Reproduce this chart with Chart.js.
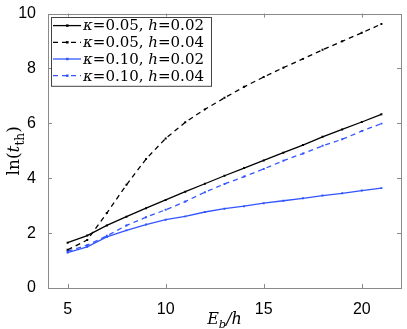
<!DOCTYPE html>
<html>
<head>
<meta charset="utf-8">
<script src="https://cdn.jsdelivr.net/npm/chart.js@4.4.1/dist/chart.umd.min.js"></script>
<style>
  html, body { margin: 0; padding: 0; background: #fff; }
  #wrap { width: 407px; height: 329px; }
</style>
</head>
<body>
<div id="wrap"><canvas id="thChart" width="407" height="329"></canvas></div>
<script>
// E_b/h values and ln(t_th)
const xValues = [5, 6, 7, 8, 9, 10, 11, 12, 13, 14, 15, 16, 17, 18, 19, 20, 21];
const k005h002 = [1.65, 1.91, 2.28, 2.60, 2.91, 3.21, 3.51, 3.80, 4.09, 4.37, 4.65, 4.93, 5.21, 5.51, 5.78, 6.05, 6.33];
const k005h004 = [1.39, 1.75, 2.73, 3.76, 4.70, 5.45, 6.04, 6.51, 6.93, 7.33, 7.69, 8.03, 8.35, 8.68, 8.99, 9.30, 9.62];
const k010h002 = [1.29, 1.50, 1.86, 2.10, 2.31, 2.49, 2.61, 2.77, 2.89, 2.98, 3.09, 3.18, 3.27, 3.37, 3.45, 3.55, 3.64];
const k010h004 = [1.34, 1.56, 1.90, 2.28, 2.58, 2.85, 3.15, 3.49, 3.79, 4.06, 4.34, 4.64, 4.90, 5.18, 5.42, 5.72, 5.99];
const seriesLabels = ['κ=0.05, h=0.02', 'κ=0.05, h=0.04', 'κ=0.10, h=0.02', 'κ=0.10, h=0.04'];
const xTicks = [5, 10, 15, 20];
const yTicks = [0, 2, 4, 6, 8, 10];

const BLUE = '#3355ff';
const FRAME = '#8a8a8a';

function makeSet(label, values, color, dashed) {
    return {
        label: label,
        data: xValues.map((x, i) => ({x: x, y: values[i]})),
        borderColor: color,
        backgroundColor: color,
        borderWidth: 1.3,
        borderDash: dashed ? [5, 4] : [],
        pointStyle: 'rect',
        pointRadius: 1.4,
        pointBorderWidth: 0,
        pointBackgroundColor: color,
        tension: 0
    };
}

// draw text pieces, letters in italic (like LaTeX math)
function richParts(str) {
    const parts = [];
    for (const ch of str) {
        parts.push({t: ch, italic: /[A-Za-zκ]/.test(ch)});
    }
    return parts;
}

function drawParts(ctx, parts, x, y, size, family) {
    let cx = x;
    parts.forEach(p => {
        const s = p.sub ? size * 0.72 : size;
        ctx.font = (p.italic ? 'italic ' : '') + s + 'px ' + family;
        ctx.fillText(p.t, cx, p.sub ? y + size * 0.28 : y);
        cx += ctx.measureText(p.t).width;
    });
    return cx - x;
}

function partsWidth(ctx, parts, size, family) {
    let w = 0;
    parts.forEach(p => {
        const s = p.sub ? size * 0.72 : size;
        ctx.font = (p.italic ? 'italic ' : '') + s + 'px ' + family;
        w += ctx.measureText(p.t).width;
    });
    return w;
}

const SERIF = '"DejaVu Serif"';

const framePlugin = {
    id: 'frame',
    afterDatasetsDraw(chart) {
        const {ctx, chartArea: a, scales} = chart;
        ctx.save();
        ctx.strokeStyle = FRAME;
        ctx.lineWidth = 1;
        ctx.setLineDash([]);
        ctx.strokeRect(Math.round(a.left) + 0.5, Math.round(a.top) + 0.5,
            Math.round(a.right - a.left), Math.round(a.bottom - a.top));
        ctx.beginPath();
        scales.x.ticks.forEach(t => {
            const px = Math.round(scales.x.getPixelForValue(t.value)) + 0.5;
            ctx.moveTo(px, a.bottom); ctx.lineTo(px, a.bottom - 4);
            ctx.moveTo(px, a.top); ctx.lineTo(px, a.top + 4);
        });
        scales.y.ticks.forEach(t => {
            const py = Math.round(scales.y.getPixelForValue(t.value)) + 0.5;
            ctx.moveTo(a.left, py); ctx.lineTo(a.left + 4, py);
            ctx.moveTo(a.right, py); ctx.lineTo(a.right - 4, py);
        });
        ctx.stroke();
        ctx.restore();
    }
};

const legendPlugin = {
    id: 'boxLegend',
    afterDraw(chart) {
        const {ctx, chartArea: a} = chart;
        const left = a.left + 3, top = a.top + 3;
        const rowH = 16.7, w = 160, h = rowH * 4 + 2;
        ctx.save();
        ctx.fillStyle = '#fff';
        ctx.fillRect(left, top, w, h);
        ctx.strokeStyle = '#444';
        ctx.lineWidth = 1;
        ctx.setLineDash([]);
        ctx.strokeRect(Math.round(left) + 0.5, Math.round(top) + 0.5, w, h);
        chart.data.datasets.forEach((ds, i) => {
            const cy = top + 9 + i * rowH;
            ctx.strokeStyle = ds.borderColor;
            ctx.lineWidth = ds.borderWidth;
            ctx.setLineDash(ds.borderDash);
            ctx.beginPath();
            ctx.moveTo(left + 2, cy);
            ctx.lineTo(left + 30, cy);
            ctx.stroke();
            ctx.setLineDash([]);
            ctx.fillStyle = ds.borderColor;
            ctx.fillRect(left + 15, cy - 1.2, 2.6, 2.4);
            ctx.fillStyle = '#000';
            ctx.textBaseline = 'middle';
            ctx.textAlign = 'left';
            drawParts(ctx, richParts(ds.label), left + 32, cy + 1, 15, SERIF);
        });
        ctx.restore();
    }
};

const titlePlugin = {
    id: 'axisTitles',
    afterDraw(chart) {
        const {ctx, chartArea: a} = chart;
        ctx.save();
        ctx.fillStyle = '#000';
        ctx.textBaseline = 'alphabetic';
        ctx.textAlign = 'left';
        // x title: E_b/h
        const xParts = [{t: 'E', italic: true}, {t: 'b', italic: true, sub: true}, {t: '/h', italic: true}];
        const xw = partsWidth(ctx, xParts, 16, SERIF);
        drawParts(ctx, xParts, (a.left + a.right) / 2 - xw / 2, 324, 16, SERIF);
        // y title: ln(t_th)
        const yParts = [{t: 'ln('}, {t: 't', italic: true}, {t: 'th', sub: true}, {t: ')'}];
        const yw = partsWidth(ctx, yParts, 17, SERIF);
        ctx.translate(19, (a.top + a.bottom) / 2);
        ctx.rotate(-Math.PI / 2);
        drawParts(ctx, yParts, -yw / 2, 0, 17, SERIF);
        ctx.restore();
    }
};

new Chart(document.getElementById('thChart').getContext('2d'), {
    type: 'line',
    data: {
        datasets: [
            makeSet(seriesLabels[0], k005h002, '#000', false),
            makeSet(seriesLabels[1], k005h004, '#000', true),
            makeSet(seriesLabels[2], k010h002, BLUE, false),
            makeSet(seriesLabels[3], k010h004, BLUE, true)
        ]
    },
    options: {
        responsive: false,
        animation: false,
        devicePixelRatio: 1,
        layout: {padding: {left: 0, right: 6, top: 12, bottom: 0}},
        plugins: {
            legend: {display: false},
            tooltip: {enabled: false}
        },
        scales: {
            x: {
                type: 'linear',
                min: 4,
                max: 22,
                afterBuildTicks: s => { s.ticks = xTicks.map(v => ({value: v})); },
                afterFit: s => { s.height = 41; },
                grid: {display: false},
                border: {display: false},
                ticks: {
                    color: '#000',
                    padding: 4,
                    maxRotation: 0,
                    font: {family: '"Liberation Sans"', size: 16}
                }
            },
            y: {
                min: 0,
                max: 10,
                afterBuildTicks: s => { s.ticks = yTicks.map(v => ({value: v})); },
                afterFit: s => { s.width = 48; },
                grid: {display: false},
                border: {display: false},
                ticks: {
                    color: '#000',
                    padding: 4,
                    font: {family: '"Liberation Sans"', size: 16}
                }
            }
        }
    },
    plugins: [framePlugin, legendPlugin, titlePlugin]
});
</script>
</body>
</html>
